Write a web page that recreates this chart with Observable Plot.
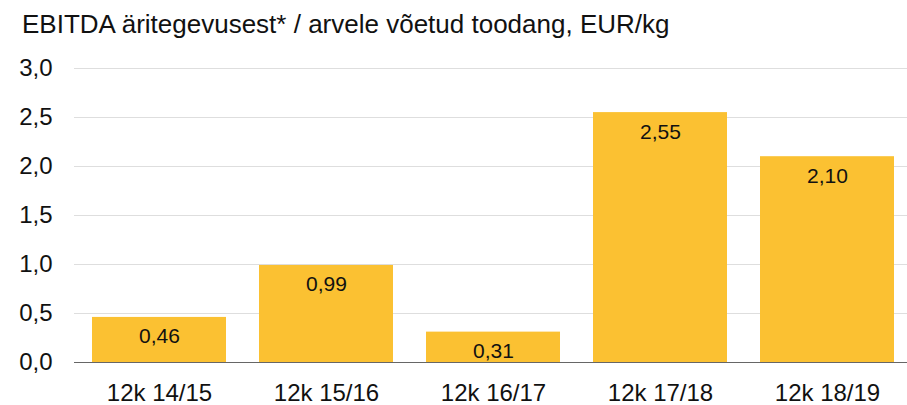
<!DOCTYPE html>
<html>
<head>
<meta charset="utf-8">
<script src="https://cdn.jsdelivr.net/npm/d3@7"></script>
<script src="https://cdn.jsdelivr.net/npm/@observablehq/plot@0.6"></script>
<style>
  html, body { margin: 0; padding: 0; background: #fff; }
  body { width: 907px; height: 405px; overflow: hidden; font-family: Arial, "Liberation Sans", sans-serif; }
  #title { margin: 11px 0 0 22px; height: 34px; line-height: 26px; font-size: 26px; color: #111; white-space: nowrap; }
  svg { display: block; }
</style>
</head>
<body>
<div id="title">EBITDA äritegevusest* / arvele võetud toodang, EUR/kg</div>
<div id="chart"></div>
<script>
const categories = ["12k 14/15", "12k 15/16", "12k 16/17", "12k 17/18", "12k 18/19"];
const values = [0.46, 0.99, 0.31, 2.55, 2.10];
const yTicks = [0, 0.5, 1, 1.5, 2, 2.5, 3];

const data = categories.map((c, i) => ({ cat: c, value: values[i] }));
const fmt1 = d => d.toFixed(1).replace(".", ",");
const fmt2 = d => d.toFixed(2).replace(".", ",");

const chart = Plot.plot({
  width: 907,
  height: 360,
  marginTop: 23,
  marginBottom: 43,
  marginLeft: 74,
  marginRight: -5,
  style: { fontFamily: "Arial, 'Liberation Sans', sans-serif", color: "#111", background: "transparent" },
  x: { domain: categories, paddingInner: 0.2, paddingOuter: 0.1, label: null },
  y: { domain: [0, 3], label: null },
  marks: [
    Plot.gridY(yTicks, { stroke: "#dedede", strokeOpacity: 1, strokeWidth: 1 }),
    Plot.axisY({ ticks: yTicks, tickFormat: fmt1, tickSize: 0, tickPadding: 22, fontSize: 24, label: null }),
    Plot.barY(data, { x: "cat", y: "value", fill: "#FBC132" }),
    Plot.ruleY([0], { stroke: "#666", strokeWidth: 1.2 }),
    Plot.axisX({ tickSize: 0, tickPadding: 21, fontSize: 24, label: null }),
    Plot.text(data, { x: "cat", y: "value", text: d => fmt2(d.value), lineAnchor: "top", dy: 11, fontSize: 21, fill: "#111" })
  ]
});
document.getElementById("chart").appendChild(chart);
</script>
</body>
</html>
